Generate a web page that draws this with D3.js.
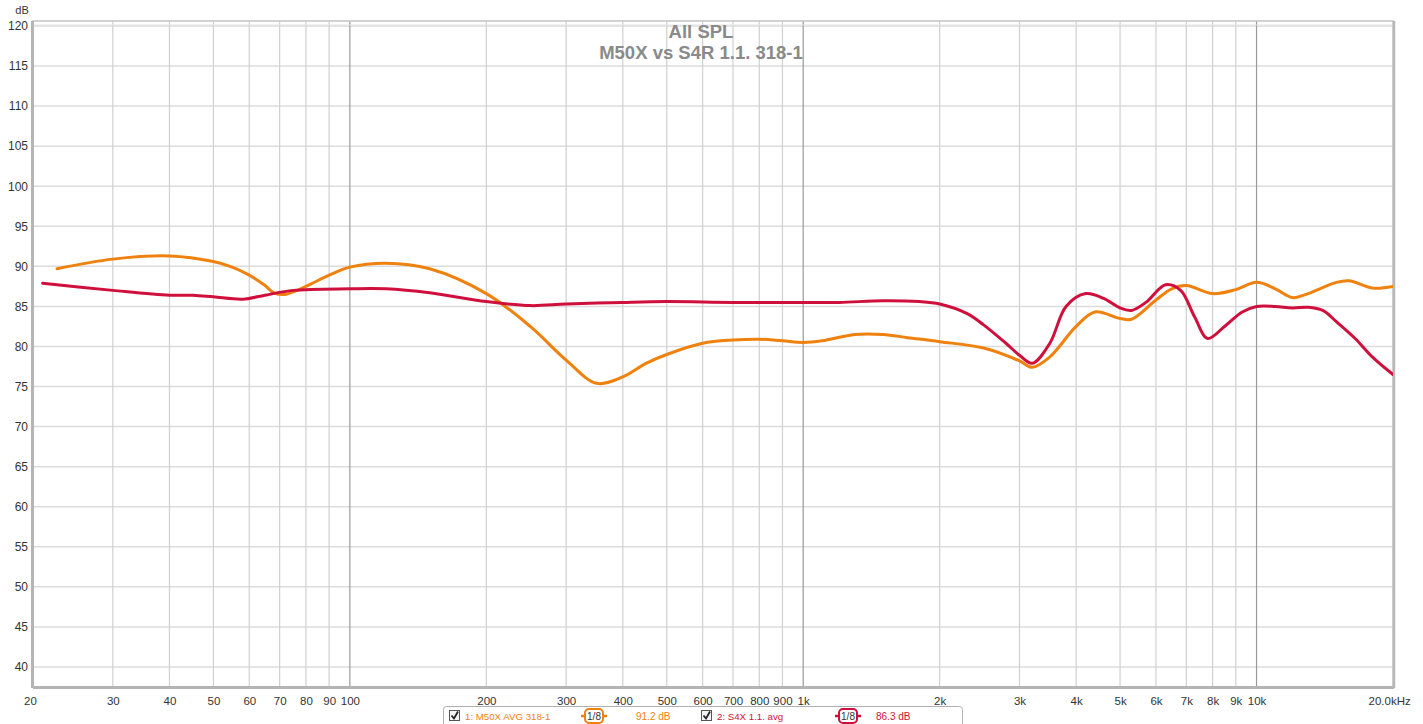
<!DOCTYPE html>
<html><head><meta charset="utf-8">
<script src="https://cdn.jsdelivr.net/npm/d3@7"></script>
<style>body{margin:0;background:#fff;}svg{display:block;font-family:"Liberation Sans",Arial,sans-serif;}</style>
</head><body><svg id="c" width="1423" height="724"></svg>
<script>
const titleLines = ["All SPL", "M50X vs S4R 1.1. 318-1"];
const yTicks = [40,45,50,55,60,65,70,75,80,85,90,95,100,105,110,115,120];
const xTickVals = [20,30,40,50,60,70,80,90,100,200,300,400,500,600,700,800,900,1000,2000,3000,4000,5000,6000,7000,8000,9000,10000,20000];
const xTickLabels = ["20","30","40","50","60","70","80","90","100","200","300","400","500","600","700","800","900","1k","2k","3k","4k","5k","6k","7k","8k","9k","10k","20.0kHz"];
const majorGrid = [100,1000,10000];

const m50xFreq = [22.6,30,40,50,55,60,65,68,72,80,90,100,120,150,200,250,300,350,400,450,500,600,700,800,900,1000,1100,1300,1500,1700,2000,2500,3000,3200,3500,4000,4400,5000,5300,6000,6500,7000,8000,9000,10000,11000,12000,13000,15000,16000,18000,20000];
const m50xDb =   [89.7,90.9,91.3,90.6,89.9,88.9,87.6,86.7,86.5,87.5,88.9,89.9,90.4,89.7,86.6,82.5,78.3,75.4,76.2,77.9,79.0,80.4,80.8,80.9,80.7,80.5,80.7,81.5,81.5,81.1,80.6,79.8,78.2,77.4,78.7,82.5,84.3,83.5,83.4,85.8,87.2,87.6,86.6,87.1,88.0,87.2,86.1,86.6,88.0,88.2,87.3,87.5];

const s4xFreq = [21,30,40,45,50,58,65,75,100,120,150,200,250,300,400,500,700,1000,1200,1500,1800,2000,2300,2500,2800,3000,3200,3500,3800,4200,4600,5000,5300,5700,6300,6800,7300,7800,8500,9300,10000,11000,12000,13000,14000,15000,16500,18000,20000];
const s4xDb =   [87.9,87.0,86.4,86.4,86.2,85.9,86.4,87.0,87.2,87.2,86.7,85.6,85.1,85.3,85.5,85.6,85.5,85.5,85.5,85.7,85.6,85.3,84.1,82.7,80.4,78.9,77.9,80.4,85.0,86.6,86.0,84.8,84.5,85.5,87.7,87.0,83.7,81.0,82.5,84.3,85.0,85.0,84.8,84.9,84.5,83.1,81.0,78.7,76.5];

const seriesNames = ["1: M50X AVG 318-1", "2: S4X 1.1. avg"];
const seriesColors = ["#ef820f", "#d0103c"];
const smoothing = ["1/8", "1/8"];
const levels = ["91.2 dB", "86.3 dB"];

const svg = d3.select("#c");
const L = 33, R = 1393, T = 21, B = 687;
const x = d3.scaleLog().domain([20, 20000]).range([L, R]);
const y = d3.scaleLinear().domain([37.5, 120.62]).range([B, T]);

// horizontal grid
svg.append("g").selectAll("line").data(yTicks).join("line")
  .attr("x1", L).attr("x2", R).attr("y1", d => y(d)).attr("y2", d => y(d))
  .attr("stroke", "#dcdcdc").attr("stroke-width", 1.5);
// vertical grid
svg.append("g").selectAll("line").data(xTickVals.filter(v => v > 20 && v < 20000)).join("line")
  .attr("x1", d => x(d)).attr("x2", d => x(d)).attr("y1", T).attr("y2", B)
  .attr("stroke", d => majorGrid.includes(d) ? "#9a9a9a" : "#d0d0d0").attr("stroke-width", 1.2);

// frame
svg.append("rect").attr("x", L).attr("y", T).attr("width", R - L).attr("height", B - T)
  .attr("fill", "none").attr("stroke", "#c4c4c4").attr("stroke-width", 1.5);
svg.append("line").attr("x1", L).attr("x2", R).attr("y1", T + 4).attr("y2", T + 4).attr("stroke", "#e4e4e4").attr("stroke-width", 1);
svg.append("line").attr("x1", L - 0.5).attr("x2", L - 0.5).attr("y1", T).attr("y2", B + 1).attr("stroke", "#b4b4b4").attr("stroke-width", 3);
svg.append("line").attr("x1", L).attr("x2", R + 1).attr("y1", B + 0.5).attr("y2", B + 0.5).attr("stroke", "#b4b4b4").attr("stroke-width", 3);
svg.append("line").attr("x1", R + 1).attr("x2", R + 1).attr("y1", T).attr("y2", B + 1).attr("stroke", "#b8b8b8").attr("stroke-width", 2.5);

// y axis labels
const yAxis = d3.axisLeft(y).tickValues(yTicks).tickSize(0).tickPadding(5);
const gy = svg.append("g").attr("transform", `translate(${L},0)`).call(yAxis);
gy.select(".domain").remove();
gy.selectAll("text").attr("font-size", 12).attr("fill", "#333").attr("font-family", "Liberation Sans, Arial, sans-serif");
svg.append("text").attr("x", 22).attr("y", 14).attr("text-anchor", "middle").attr("font-size", 11).attr("fill", "#333").text("dB");

// x axis labels
const xAxis = d3.axisBottom(x).tickValues(xTickVals).tickFormat((d, i) => xTickLabels[i]).tickSize(0).tickPadding(10);
const gx = svg.append("g").attr("transform", `translate(0,${B})`).call(xAxis);
gx.select(".domain").remove();
gx.selectAll("text").attr("font-size", 11.5).attr("fill", "#333").attr("font-family", "Liberation Sans, Arial, sans-serif");
gx.selectAll("text").filter((d, i) => i === 0).attr("dx", -3);
gx.selectAll("text").filter((d, i) => i === xTickVals.length - 1).attr("text-anchor", "start").attr("dx", -25);

// title
svg.append("g").selectAll("text").data(titleLines).join("text")
  .attr("x", 701).attr("y", (d, i) => 38 + i * 21).attr("text-anchor", "middle")
  .attr("font-size", 18.5).attr("font-weight", "bold").attr("fill", "#8a8a8a").text(d => d);

// curves
const line = d3.line().x(d => x(d[0])).y(d => y(d[1])).curve(d3.curveCatmullRom.alpha(0.5));
const defs = svg.append("defs");
defs.append("clipPath").attr("id", "clip").append("rect").attr("x", L).attr("y", T).attr("width", R - L).attr("height", B - T);
const cg = svg.append("g").attr("clip-path", "url(#clip)");
cg.append("path").datum(d3.zip(m50xFreq, m50xDb)).attr("d", line)
  .attr("fill", "none").attr("stroke", seriesColors[0]).attr("stroke-width", 3).attr("stroke-linejoin", "round").attr("stroke-linecap", "round");
cg.append("path").datum(d3.zip(s4xFreq, s4xDb)).attr("d", line)
  .attr("fill", "none").attr("stroke", seriesColors[1]).attr("stroke-width", 3).attr("stroke-linejoin", "round").attr("stroke-linecap", "round");

// legend
const lg = svg.append("g");
lg.append("rect").attr("x", 443.5).attr("y", 706.5).attr("width", 519).attr("height", 30).attr("rx", 3)
  .attr("fill", "#fff").attr("stroke", "#b0b0b0");
const items = [
  {cx: 448, tx: 465, bx: 594, vx: 636},
  {cx: 700, tx: 717, bx: 848, vx: 876}
];
items.forEach((it, i) => {
  const g = lg.append("g");
  g.append("rect").attr("x", it.cx + 1.5).attr("y", 710.5).attr("width", 10).attr("height", 10).attr("fill", "#f4f4f4").attr("stroke", "#555");
  g.append("path").attr("d", `M${it.cx + 3.5},${715.5} L${it.cx + 6},${718.5} L${it.cx + 10},${711.5}`).attr("fill", "none").attr("stroke", "#222").attr("stroke-width", 1.8);
  g.append("text").attr("x", it.tx).attr("y", 719.5).attr("font-size", 9.7).attr("fill", seriesColors[i]).text(seriesNames[i]);
  g.append("line").attr("x1", it.bx - 13).attr("x2", it.bx + 13).attr("y1", 716).attr("y2", 716).attr("stroke", seriesColors[i]).attr("stroke-width", 2.5);
  g.append("rect").attr("x", it.bx - 9).attr("y", 709).attr("width", 18).attr("height", 14).attr("rx", 4).attr("fill", "#fff").attr("stroke", seriesColors[i]).attr("stroke-width", 2);
  g.append("text").attr("x", it.bx).attr("y", 720).attr("text-anchor", "middle").attr("font-size", 10).attr("fill", "#333").text(smoothing[i]);
  g.append("text").attr("x", it.vx).attr("y", 719.5).attr("font-size", 10).attr("fill", seriesColors[i]).text(levels[i]);
});
</script></body></html>
